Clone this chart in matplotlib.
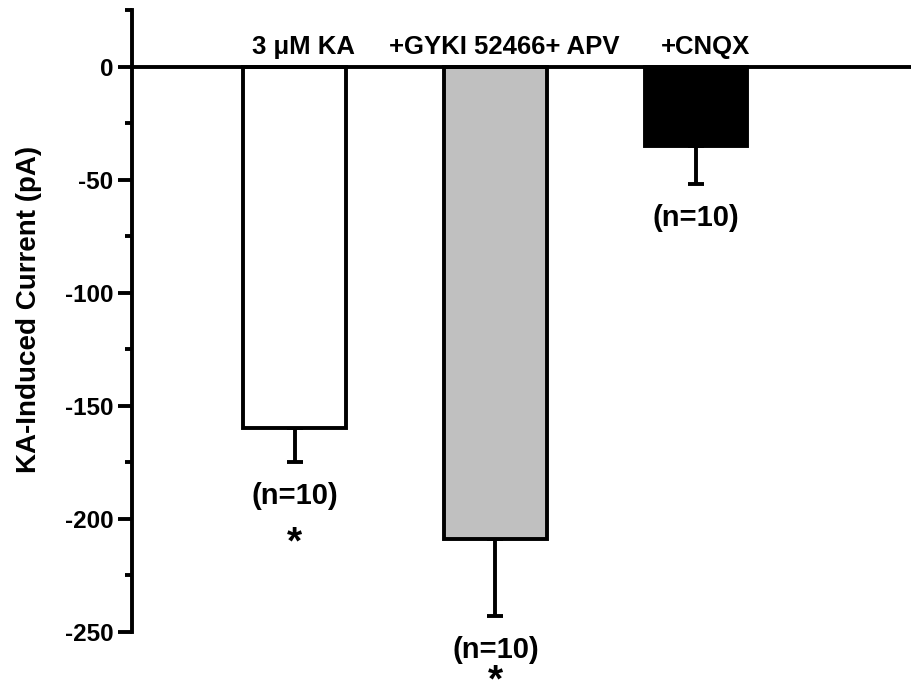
import matplotlib
matplotlib.use('Agg')
import matplotlib.pyplot as plt
import numpy as np
from matplotlib.ticker import MultipleLocator

plt.rcParams['font.family'] = ['Liberation Sans', 'DejaVu Sans']
plt.rcParams['font.weight'] = 'bold'
plt.rcParams['axes.unicode_minus'] = False

# data
labels = ['3 \u03bcM KA', '+GYKI 52466+ APV', '+CNQX']
means = [-160, -209, -35]
sems = [15, 34, 17]
n_labels = ['(n=10)', '(n=10)', '(n=10)']
stars = ['*', '*', '']
star_y = [-211, -272, None]
colors = ['white', '#c0c0c0', 'black']

x = np.arange(1, len(labels) + 1)
lw = 2.8

fig = plt.figure(figsize=(9.11, 6.86), dpi=100)
ax = fig.add_axes([132 / 911, 54 / 686, 1 - 132 / 911, 622 / 686])

ax.bar(x, means, width=0.51, color=colors, edgecolor='black', linewidth=lw, zorder=2)
ax.errorbar(x, means, yerr=[sems, [0] * len(sems)], fmt='none', ecolor='black',
            elinewidth=lw, capsize=5.8, capthick=lw, zorder=1)

ax.set_xlim(0.19, 4.07)
ax.set_ylim(-250, 25)

ax.spines['top'].set_visible(False)
ax.spines['right'].set_visible(False)
ax.spines['bottom'].set_position(('data', 0))
ax.spines['bottom'].set_linewidth(lw)
ax.spines['left'].set_linewidth(lw)
ax.set_xticks([])
ax.yaxis.set_major_locator(MultipleLocator(50))
ax.yaxis.set_minor_locator(MultipleLocator(25))
ax.tick_params(axis='y', which='major', length=10, width=lw, labelsize=17.5, pad=3.5)
ax.tick_params(axis='y', which='minor', length=5, width=lw)
ax.set_ylabel('KA-Induced Current (pA)', fontsize=20, fontweight='bold')
ax.yaxis.set_label_coords(-0.115, 0.518)

for xi, lab in zip(x, labels):
    ax.text(xi + 0.045, 8.8, lab, ha='center', va='center', fontsize=18.5, fontweight='bold')

for xi, m, s, nl, st, sy in zip(x, means, sems, n_labels, stars, star_y):
    ax.text(xi, m - s - 15, nl, ha='center', va='center', fontsize=21, fontweight='bold',
            clip_on=False)
    if st:
        ax.text(xi, sy, st, ha='center', va='center', fontsize=28, fontweight='bold',
                clip_on=False)

fig.savefig('out.png', dpi=100)
